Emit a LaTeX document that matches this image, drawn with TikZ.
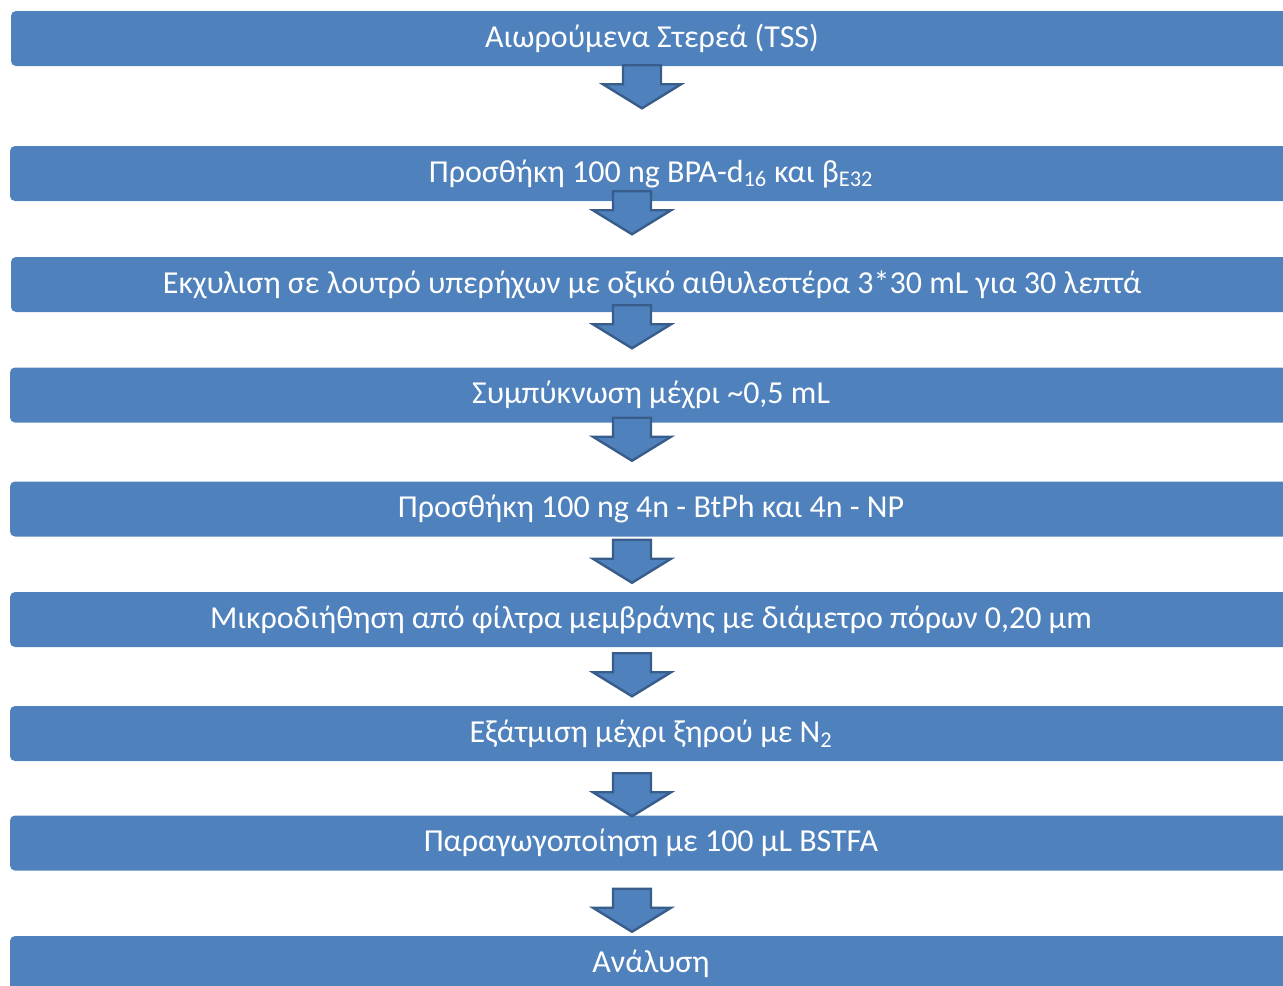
\documentclass[tikz,border=0pt]{standalone}
\usepackage{fontspec}
\setmainfont{Carlito}
\usetikzlibrary{positioning, calc}
\definecolor{boxblue}{HTML}{4F81BD}
\definecolor{edgeblue}{HTML}{385D8A}
\tikzset{
    stepbox/.style={fill=boxblue, rounded corners=3.75pt, minimum height=41.25pt,
        minimum width=961.5pt, inner sep=0pt, text=white, font=\fontsize{24}{28}\selectfont},
    flowarrow/.style={fill=boxblue, draw=edgeblue, line width=1.8pt, line join=miter},
    downarrow/.pic={
        \draw[flowarrow] (-19,0) -- (-19,19) -- (-39,19) -- (0,43)
            -- (39,19) -- (19,19) -- (19,0) -- cycle;
    }
}

\begin{document}
\begin{tikzpicture}[x=0.75pt, y=-0.75pt]
        \useasboundingbox (0,0) rectangle (1283,986);
        \clip (0,0) rectangle (1283,986);
        \node[stepbox] (s1) at (652,38.5) {Αιωρούμενα Στερεά (TSS)};
        \node[stepbox] (s2) at (651,173.5) {Προσθήκη 100 ng BPA-d\textsubscript{16} και β\textsubscript{E32}};
        \node[stepbox] (s3) at (652,284.5) {Εκχυλιση σε λουτρό υπερήχων με οξικό αιθυλεστέρα 3*30 mL για 30 λεπτά};
        \node[stepbox] (s4) at (651,395) {Συμπύκνωση μέχρι \textasciitilde0,5 mL};
        \node[stepbox] (s5) at (651,509) {Προσθήκη 100 ng 4n - BtPh και 4n - NP};
        \node[stepbox] (s6) at (651,619.5) {Μικροδιήθηση από φίλτρα μεμβράνης με διάμετρο πόρων 0,20 μm};
        \node[stepbox] (s7) at (651,733.5) {Εξάτμιση μέχρι ξηρού με N\textsubscript{2}};
        \node[stepbox] (s8) at (651,843) {Παραγωγοποίηση με 100 μL BSTFA};
        \node[stepbox] (s9) at (651,963.5) {Ανάλυση};
        \coordinate (axis) at (632,0);
        \pic at ([xshift=7.5pt, yshift=0.75pt]s1.south -| axis) {downarrow};
        \pic at ([yshift=7.5pt]s2.south -| axis) {downarrow};
        \pic at ([yshift=5.25pt]s3.south -| axis) {downarrow};
        \pic at ([yshift=3.75pt]s4.south -| axis) {downarrow};
        \pic at ([yshift=-2.25pt]s5.south -| axis) {downarrow};
        \pic at ([yshift=-4.5pt]s6.south -| axis) {downarrow};
        \pic at ([yshift=-9pt]s7.south -| axis) {downarrow};
        \pic at ([yshift=-13.5pt]s8.south -| axis) {downarrow};
    \end{tikzpicture}
\end{document}
